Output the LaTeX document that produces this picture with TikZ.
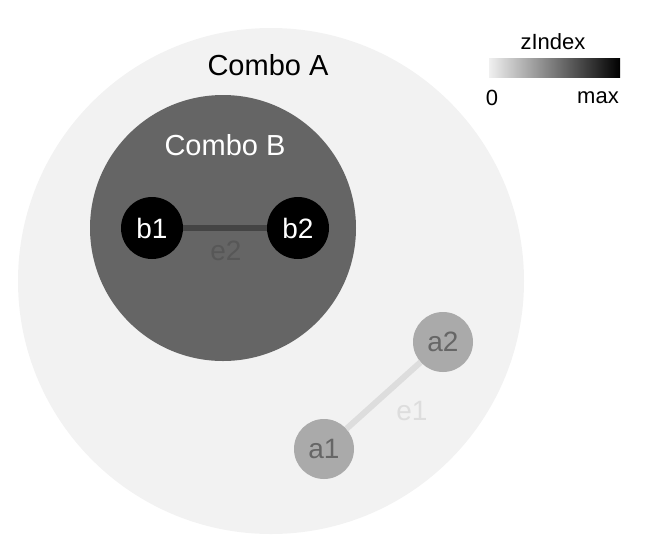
\documentclass[tikz,border=0pt]{standalone}
\usepackage{fontspec}
\setmainfont{Liberation Sans}
\usepackage{xcolor}
\usetikzlibrary{positioning,calc}
\definecolor{comboA}{HTML}{F2F2F2}
\definecolor{comboB}{HTML}{656565}
\definecolor{nodeA}{HTML}{AAAAAA}
\definecolor{textA}{HTML}{666666}
\definecolor{edgeA}{HTML}{DDDDDD}
\definecolor{edgeB}{HTML}{444444}
\tikzset{combo/.style={circle,inner sep=0pt},
  vertex/.style={circle,minimum size=60pt,inner sep=0pt,font=\fontsize{28}{30}\selectfont},
  link/.style={line width=6pt},
  tag/.style={font=\fontsize{28}{30}\selectfont}}

\begin{document}
\begin{tikzpicture}[x=1pt,y=-1pt]
\useasboundingbox (0,0) rectangle (646,550);
\node[combo,fill=comboA,minimum size=506pt] (ca) at (271,281) {};
\node[tag,font=\fontsize{29}{31}\selectfont] (calabel) at (268,65) {Combo A};
\node[combo,fill=comboB,minimum size=266pt] (cb) at (223,228) {};
\node[tag,text=white,font=\fontsize{29}{31}\selectfont] (cblabel) at (225,145) {Combo B};
\node[vertex,fill=black,text=white,minimum size=62pt] (b1) at (152,228) {b1};
\node[vertex,fill=black,text=white,minimum size=62pt] (b2) at (298,228) {b2};
\node[vertex,fill=nodeA,text=textA] (a2) at (443,342) {a2};
\node[vertex,fill=nodeA,text=textA] (a1) at (324,449) {a1};
\draw[link,draw=edgeB] (b1)--(b2);
\draw[link,draw=edgeA] (a1)--(a2);
\node[tag,text=textA!85!black] (e2) at (226,251) {e2};
\node[tag,text=edgeA] (e1) at (412,411) {e1};
% zIndex legend
\node[font=\fontsize{22}{24}\selectfont] (zlabel) at (553,42) {zIndex};
\shade[left color=black!6,right color=black] (489,58) rectangle (620,77);
\node[font=\fontsize{22}{24}\selectfont] (zmin) at (492,98) {0};
\node[font=\fontsize{22}{24}\selectfont] (zmax) at (598,98) {max};
\end{tikzpicture}
\end{document}
